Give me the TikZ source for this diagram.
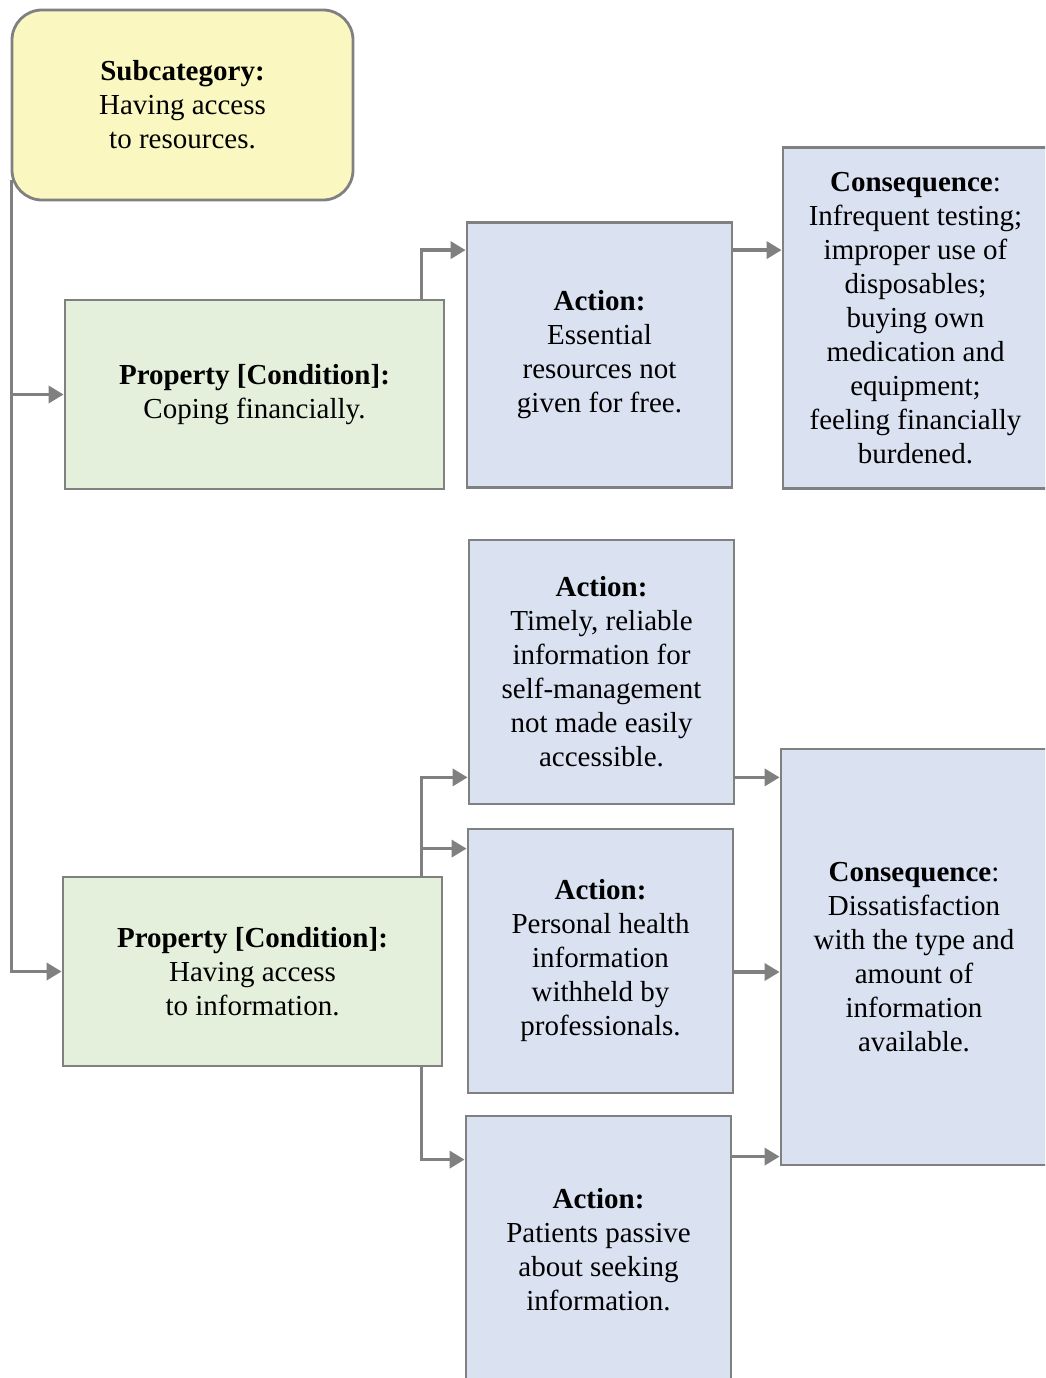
\documentclass[tikz,border=0pt]{standalone}
\usepackage{fontspec}
\setmainfont{Liberation Serif}
\usetikzlibrary{arrows.meta,calc}
\definecolor{edgegray}{RGB}{128,128,128}
\definecolor{subfill}{RGB}{250,248,192}
\definecolor{propfill}{RGB}{228,240,220}
\definecolor{actfill}{RGB}{218,226,242}
\begin{document}
\begin{tikzpicture}[x=1pt,y=-1pt,
  every node/.style={font=\fontsize{29}{34}\selectfont, align=center, inner sep=0pt},
  boxbase/.style={draw=edgegray, line width=2.8pt},
  subbox/.style={boxbase, fill=subfill, rounded corners=30pt},
  propbox/.style={boxbase, fill=propfill},
  actbox/.style={boxbase, fill=actfill},
  conn/.style={draw=edgegray, line width=3.5pt,
    -{Triangle[length=15pt,width=17pt]}}]
\useasboundingbox (0,0) rectangle (1045,1378);
\clip (0,0) rectangle (1045,1378);

% category and properties
\node[subbox, minimum width=341pt, minimum height=190pt] (sub) at (182.5,105)
  {\textbf{Subcategory:}\\Having access\\to resources.};
\node[propbox, minimum width=379pt, minimum height=189pt] (p1) at (254.5,394.5)
  {\textbf{Property [Condition]:}\\Coping financially.};
\node[propbox, minimum width=379pt, minimum height=189pt] (p2) at (252.5,971.5)
  {\textbf{Property [Condition]:}\\Having access\\to information.};

% actions
\node[actbox, minimum width=265pt, minimum height=265pt] (a1) at (599.5,355)
  {\textbf{Action:}\\Essential\\resources not\\given for free.};
\node[actbox, minimum width=265pt, minimum height=264pt] (a2) at (601.5,672)
  {\textbf{Action:}\\Timely, reliable\\information for\\self-management\\not made easily\\accessible.};
\node[actbox, minimum width=265pt, minimum height=264pt] (a3) at (600.5,961)
  {\textbf{Action:}\\Personal health\\information\\withheld by\\professionals.};
\node[actbox, minimum width=265pt, minimum height=268pt] (a4) at (598.5,1250)
  {\textbf{Action:}\\Patients passive\\about seeking\\information.};

% consequences
\node[actbox, minimum width=265pt, minimum height=341pt] (c1) at (915.5,318)
  {\textbf{Consequence}:\\Infrequent testing;\\improper use of\\disposables;\\buying own\\medication and\\equipment;\\feeling financially\\burdened.};
\node[actbox, minimum width=266pt, minimum height=416pt] (c2) at (914,957)
  {\textbf{Consequence}:\\Dissatisfaction\\with the type and\\amount of\\information\\available.};

% spine from the subcategory to both properties
\coordinate (spine) at ([xshift=1pt,yshift=-75pt]sub.west);
\draw[conn] (spine) |- (p2.west);
\draw[conn] (spine |- p1.west) -- (p1.west);

% property to action links
\draw[conn] ([xshift=-24pt]p1.north east) |- ([yshift=-29pt]a1.north west);
\draw[conn] ([xshift=-22pt]p2.north east) |- ([yshift=28pt]a2.south west);
\draw[conn] ([xshift=-22pt]p2.north east) |- ([yshift=-21pt]a3.north west);
\draw[conn] ([xshift=-22pt]p2.south east) |- ([yshift=-45pt]a4.north west);

% action to consequence links
\coordinate (a1out) at ([yshift=-29pt]a1.north east);
\draw[conn] (a1out) -- (a1out -| c1.west);
\coordinate (a2out) at ([yshift=28pt]a2.south east);
\draw[conn] (a2out) -- (a2out -| c2.west);
\coordinate (a3out) at ([yshift=-11pt]a3.east);
\draw[conn] (a3out) -- (a3out -| c2.west);
\coordinate (a4out) at ([yshift=-42pt]a4.north east);
\draw[conn] (a4out) -- (a4out -| c2.west);
\end{tikzpicture}
\end{document}
